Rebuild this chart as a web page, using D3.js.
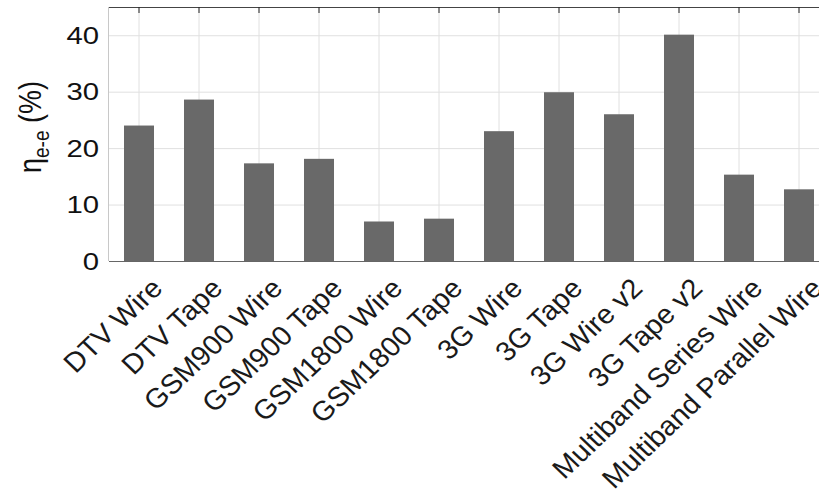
<!DOCTYPE html>
<html><head><meta charset="utf-8">
<script src="https://cdn.jsdelivr.net/npm/d3@7"></script>
<style>body{margin:0;background:#fff}svg{display:block;font-family:"Liberation Sans",Arial,sans-serif}</style>
</head><body><svg id="c" width="819" height="489"></svg>
<script>
const categories = ["DTV Wire","DTV Tape","GSM900 Wire","GSM900 Tape","GSM1800 Wire","GSM1800 Tape","3G Wire","3G Tape","3G Wire v2","3G Tape v2","Multiband Series Wire","Multiband Parallel Wire"];
const values = [24.0,28.6,17.3,18.1,7.0,7.5,23.0,29.9,26.0,40.1,15.3,12.7];
const yTicks = [0,10,20,30,40];

const svg = d3.select("#c");
const L = 109, R = 829, T = 7, B = 261;
const SX = 1.18; // horizontal stretch of the text glyphs in the reference
const x = d3.scaleBand().domain(categories).range([L, R]).paddingInner(0.5).paddingOuter(0.25);
const y = d3.scaleLinear().domain([0,45]).range([B, T]);
const cx = d => x(d) + x.bandwidth()/2;

const g = svg.append("g");
// grid
g.selectAll(".hg").data(yTicks.filter(d=>d>0)).join("line")
  .attr("x1",L).attr("x2",R).attr("y1",d=>y(d)+0.5).attr("y2",d=>y(d)+0.5)
  .attr("stroke","#e0e0e0").attr("stroke-width",1);
g.selectAll(".vg").data(categories).join("line")
  .attr("x1",d=>cx(d)).attr("x2",d=>cx(d))
  .attr("y1",T).attr("y2",B).attr("stroke","#e0e0e0").attr("stroke-width",1);

// bars
g.selectAll(".bar").data(values).join("rect")
  .attr("x",(d,i)=>x(categories[i]))
  .attr("width",x.bandwidth())
  .attr("y",d=>y(d)).attr("height",d=>B-y(d))
  .attr("fill","#696969");

// frame
svg.append("line").attr("x1",L).attr("x2",R).attr("y1",T+0.5).attr("y2",T+0.5).attr("stroke","#444");
svg.append("line").attr("x1",L).attr("x2",R).attr("y1",B+0.5).attr("y2",B+0.5).attr("stroke","#666");
svg.append("line").attr("x1",L-0.5).attr("x2",L-0.5).attr("y1",T).attr("y2",B).attr("stroke","#c8c8c8");
// top ticks
svg.selectAll(".tt").data(categories).join("line")
  .attr("x1",d=>cx(d)).attr("x2",d=>cx(d))
  .attr("y1",T).attr("y2",T+6).attr("stroke","#222");

// y tick labels
svg.selectAll(".yl").data(yTicks).join("text")
  .attr("transform",d=>`translate(${L-10},${y(d)}) scale(${SX+0.04},1)`)
  .attr("text-anchor","end").attr("dy","0.36em")
  .attr("font-size",24).attr("fill","#111")
  .text(d=>d3.format("d")(d));

// x labels
svg.selectAll(".xl").data(categories).join("text")
  .attr("transform",d=>`translate(${cx(d)+25},${B+29}) scale(1.05,1) rotate(-45)`)
  .attr("text-anchor","end")
  .attr("font-size",27.5).attr("fill","#1a1a1a")
  .text(d=>d);

// y axis title
const yt = svg.append("text").attr("transform",`translate(41,127) scale(${SX},1) rotate(-90)`)
  .attr("text-anchor","middle").attr("font-size",27).attr("fill","#111");
yt.append("tspan").text("η");
yt.append("tspan").attr("font-size",19).attr("dy",7).text("e-e");
yt.append("tspan").attr("dy",-7).text(" (%)");
</script></body></html>
